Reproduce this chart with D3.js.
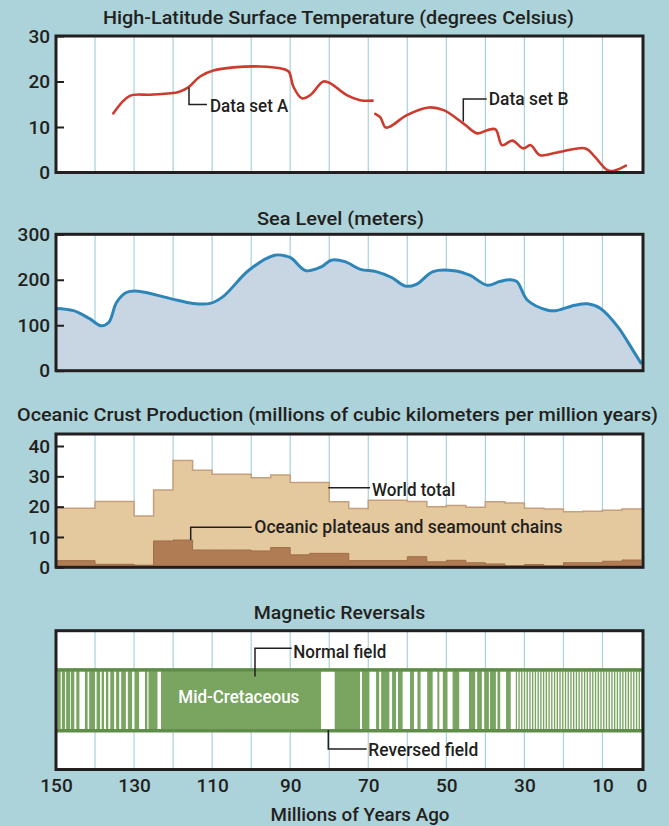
<!DOCTYPE html>
<html><head><meta charset="utf-8">
<script src="https://cdn.jsdelivr.net/npm/d3@7"></script>
<style>
html,body{margin:0;padding:0;background:#acd3da;}
svg{display:block;font-family:Roboto,"Open Sans",sans-serif;}
</style></head><body>
<svg id="chart" width="669" height="826"></svg>
<script>
// ---------- DATA ----------
const gridYears = [140,130,120,110,100,90,80,70,60,50,40,30,20,10];
const axisYears = [150,130,110,90,70,50,30,10,0];

// High-latitude surface temperature (deg C)
const tempAYears  = [135.3,131.2,125.9,118.6,116.1,113.1,109.7,104.5,97.7,92.6,90.4,89.2,87.0,84.9,81.5,79.7,75.5,72.1,68.9];
const tempAValues = [13.0,16.8,17.1,17.7,18.7,21.1,22.4,23.1,23.3,22.9,22.2,18.9,16.3,17.0,20.0,19.6,17.0,15.9,15.8];
const tempBYears  = [68.2,66.9,65.6,64.4,60.1,54.5,50.7,45.5,42.1,39.5,37.4,35.7,33.1,30.3,28.4,26.0,21.6,14.3,12.1,8.7,7.0,4.0];
const tempBValues = [12.9,12.1,9.9,10.1,12.6,14.3,13.7,10.7,8.6,9.3,9.5,6.0,7.0,5.3,6.0,3.8,4.4,5.3,3.6,0.5,0.4,1.5];
const tempTicks = [0,10,20,30];

// Sea level (m)
const seaYears  = [150,145.5,141.5,138.5,136.5,134.5,132,129,120.4,114.9,110.5,107.2,100.6,94,91,89.6,86,81.9,79.5,76,72,68,64,60.5,57.7,53.4,48,44,39.5,36.4,33.6,31.9,29.2,24,22,17.1,13.8,10.5,6.1,1.7,0];
const seaValues = [137,132,115,99,106,150,172,175,158,148,148,163,221,254,252,247,220,229,243,240,223,218,205,186,190,218,220,210,188,196,200,196,155,133,132,144,147,137,97,38,15];
const seaTicks = [0,100,200,300];

// Oceanic crust production, 5-Myr bins from 150 Ma to 0 Ma
const crustBinStart = [150,145,140,135,130,125,120,115,110,105,100,95,90,85,80,75,70,65,60,55,50,45,40,35,30,25,20,15,10,5];
const worldTotal    = [19.5,19.5,21.7,21.7,16.9,25.5,35.2,32.0,30.7,30.7,29.5,30.4,28.0,28.0,21.6,19.4,22.1,22.1,21.7,20.0,20.4,19.8,21.6,21.2,19.5,19.2,18.3,18.5,18.8,19.2];
const plateaus      = [2.2,2.2,1.0,1.0,0.7,8.7,9.0,5.7,5.7,5.7,5.4,6.5,4.1,4.6,4.6,2.2,2.2,2.2,3.5,1.8,2.3,1.5,1.1,0.5,0.9,0.5,1.5,1.5,2.0,2.4];
const crustTicks = [0,10,20,30,40];

// Magnetic reversals: reversed-field intervals [older, younger] in Ma
const reversedIntervals = [
  [148.8,148.5],[147.7,147.4],[146.4,146.2],[145.3,144.8],[144.0,142.6],[141.9,141.5],[140.0,139.6],
  [138.7,138.3],[137.7,137.2],[136.6,136.1],[135.1,134.6],[133.8,133.3],[132.1,131.6],[130.5,129.9],
  [128.7,127.2],[126.6,126.3],[124.0,123.1],
  [82.1,78.6],
  [72.1,71.6],[69.7,68.0],[67.2,66.7],[64.6,63.9],[62.9,62.4],[61.2,59.3],[58.3,57.4],[56.6,54.9],
  [53.5,52.3],[51.8,50.9],[49.7,48.4],[46.7,44.2],[42.6,42.1],[40.9,40.3],[39.1,38.8],[37.3,36.9],
  [36.2,34.7],[33.5,32.2],
  [31.9,31.55],[31.2,30.85],[30.5,30.15],[29.8,29.45],[29.1,28.75],[28.4,28.05],[27.7,27.35],[27.0,26.65],
  [26.3,25.95],[25.6,25.25],[24.9,24.55],[24.2,23.85],[23.5,23.15],[22.8,22.45],[22.1,21.75],[21.4,21.05],
  [20.7,20.35],[20.0,19.65],[19.3,18.95],[18.6,18.25],[17.9,17.55],[17.2,16.85],[16.5,16.15],[15.8,15.45],
  [15.1,14.75],[14.4,14.05],[13.7,13.35],[13.0,12.65],[12.3,11.95],[11.6,11.25],[10.9,10.55],[10.2,9.85],
  [9.5,9.15],[8.8,8.45],[8.1,7.75],[7.4,7.05],[6.7,6.35],[6.0,5.65],[5.3,4.95],[4.6,4.25],[3.9,3.55],
  [3.2,2.85],[2.5,2.15],[1.8,1.45],[1.1,0.75],[0.4,0.05]
];

// ---------- DRAWING ----------
const ink = "#231f20", gridCol = "#a9d2db";
const svg = d3.select("#chart");
svg.append("rect").attr("width",669).attr("height",826).attr("fill","#acd3da");

const x = d3.scaleLinear().domain([150,0]).range([56,641.5]);
const boxL = 56, boxR = 643;

function panelBase(top, bottom){
  const g = svg.append("g");
  g.append("rect").attr("x",boxL).attr("y",top).attr("width",boxR-boxL).attr("height",bottom-top).attr("fill","#fff");
  g.selectAll("line.grid").data(gridYears).join("line").attr("class","grid")
    .attr("x1",d=>x(d)).attr("x2",d=>x(d)).attr("y1",top).attr("y2",bottom)
    .attr("stroke",gridCol).attr("stroke-width",1.2);
  return g;
}
function panelFrame(top, bottom){
  svg.append("rect").attr("x",boxL).attr("y",top).attr("width",boxR-boxL).attr("height",bottom-top)
    .attr("fill","none").attr("stroke",ink).attr("stroke-width",3);
}
function yAxis(y, ticks){
  const g = svg.append("g").attr("transform",`translate(${boxL},0)`)
    .call(d3.axisLeft(y).tickValues(ticks).tickSize(-8).tickPadding(6));
  g.select(".domain").remove();
  g.selectAll(".tick line").attr("stroke",ink).attr("stroke-width",2);
  g.selectAll(".tick text").attr("fill",ink).style("font-size","19px").style("font-weight","500").style("font-family","Roboto");
}
function title(txt, cx, by, w){
  svg.append("text").attr("x",cx).attr("y",by).attr("text-anchor","middle")
    .attr("fill",ink).style("font-size","18.5px").style("font-weight","500")
    .attr("textLength",w).attr("lengthAdjust","spacingAndGlyphs").text(txt);
}
function label(txt, lx, by, w, col){
  svg.append("text").attr("x",lx).attr("y",by).attr("fill",col||ink)
    .style("font-size","18px").style("font-weight","500")
    .attr("textLength",w).attr("lengthAdjust","spacingAndGlyphs").text(txt);
}
function leader(pts){
  svg.append("path").attr("d",d3.line()(pts)).attr("fill","none").attr("stroke",ink).attr("stroke-width",1.5);
}

// ---- Panel 1: temperature ----
const y1 = d3.scaleLinear().domain([0,30]).range([172.5,36]);
title("High-Latitude Surface Temperature (degrees Celsius)", 338.5, 24, 471);
const p1 = panelBase(36,172.5);
const tLine = d3.line().x(d=>x(d[0])).y(d=>y1(d[1])).curve(d3.curveCatmullRom.alpha(0.5));
[[tempAYears,tempAValues],[tempBYears,tempBValues]].forEach(([ys,vs])=>{
  p1.append("path").attr("d",tLine(d3.zip(ys,vs))).attr("fill","none")
    .attr("stroke","#cd3b2e").attr("stroke-width",2.6).attr("stroke-linecap","round").attr("stroke-linejoin","round");
});
panelFrame(36,172.5);
yAxis(y1,tempTicks);
leader([[189,87.5],[189,104.5],[207,104.5]]);
label("Data set A",210,111.5,78.3);
leader([[463.3,121.5],[463.3,99],[486.7,99]]);
label("Data set B",488.7,105,79.7);

// ---- Panel 2: sea level ----
const y2 = d3.scaleLinear().domain([0,300]).range([370.7,234.3]);
title("Sea Level (meters)", 340.5, 224.5, 167);
const p2 = panelBase(234.3,370.7);
const seaData = d3.zip(seaYears,seaValues);
p2.append("path").attr("d",d3.area().x(d=>x(d[0])).y0(y2(0)).y1(d=>y2(d[1])).curve(d3.curveCatmullRom.alpha(0.5))(seaData))
  .attr("fill","#c8d5e3");
p2.append("path").attr("d",d3.line().x(d=>x(d[0])).y(d=>y2(d[1])).curve(d3.curveCatmullRom.alpha(0.5))(seaData))
  .attr("fill","none").attr("stroke","#2e85b7").attr("stroke-width",3).attr("stroke-linejoin","round");
panelFrame(234.3,370.7);
yAxis(y2,seaTicks);

// ---- Panel 3: crust production ----
const y3 = d3.scaleLinear().domain([0,40]).range([567.3,446]);
title("Oceanic Crust Production (millions of cubic kilometers per million years)", 337.5, 420.5, 641);
const p3 = panelBase(434,567.3);
function stepData(vals){ const d = crustBinStart.map((s,i)=>[s,vals[i]]); d.push([0,vals[vals.length-1]]); return d; }
const stepArea = d3.area().x(d=>x(d[0])).y0(y3(0)).y1(d=>y3(d[1])).curve(d3.curveStepAfter);
const stepLine = d3.line().x(d=>x(d[0])).y(d=>y3(d[1])).curve(d3.curveStepAfter);
p3.append("path").attr("d",stepArea(stepData(worldTotal))).attr("fill","#e4c99f");
p3.append("path").attr("d",stepLine(stepData(worldTotal))).attr("fill","none").attr("stroke","#c69f7b").attr("stroke-width",1.5);
p3.append("path").attr("d",stepArea(stepData(plateaus))).attr("fill","#b07c53");
p3.append("path").attr("d",stepLine(stepData(plateaus))).attr("fill","none").attr("stroke","#a06e48").attr("stroke-width",1);
panelFrame(434,567.3);
yAxis(y3,crustTicks);
leader([[328.3,487.7],[370,487.7]]);
label("World total",372,495.7,83.3);
leader([[190.7,540],[190.7,527.3],[251.7,527.3]]);
label("Oceanic plateaus and seamount chains",254.3,533.3,308.3);

// ---- Panel 4: magnetic reversals ----
title("Magnetic Reversals", 339.5, 619, 171.5);
const p4 = panelBase(630.7,769.5);
const bandTop = 668.3, bandBot = 732.3, edge = 3.2;
p4.append("rect").attr("x",x(150)+1.3).attr("y",bandTop).attr("width",boxR-x(150)-1.3).attr("height",bandBot-bandTop).attr("fill","#79a560");
p4.selectAll("rect.rev").data(reversedIntervals).join("rect").attr("class","rev")
  .attr("x",d=>x(d[0])).attr("width",d=>x(d[1])-x(d[0]))
  .attr("y",bandTop+edge).attr("height",bandBot-bandTop-2*edge).attr("fill","#fff");
p4.append("rect").attr("x",x(150)).attr("y",bandTop).attr("width",boxR-x(150)).attr("height",edge).attr("fill","#5f8d49");
p4.append("rect").attr("x",x(150)).attr("y",bandBot-edge).attr("width",boxR-x(150)).attr("height",edge).attr("fill","#5f8d49");
panelFrame(630.7,769.5);
label("Mid-Cretaceous",178.3,703,121,"#fff");
leader([[255,676.5],[255,648.3],[291.7,648.3]]);
label("Normal field",293.3,658,93);
leader([[328.3,730],[328.3,749],[366.7,749]]);
label("Reversed field",368.3,756,110);

// ---- Bottom axis ----
const xa = svg.append("g").attr("transform","translate(0,769.5)")
  .call(d3.axisBottom(x).tickValues(axisYears).tickSize(0).tickPadding(9));
xa.select(".domain").remove();
xa.selectAll(".tick text").attr("fill",ink).style("font-size","19px").style("font-weight","500").style("font-family","Roboto");
title("Millions of Years Ago", 360, 820.5, 179);
</script>
</body></html>
